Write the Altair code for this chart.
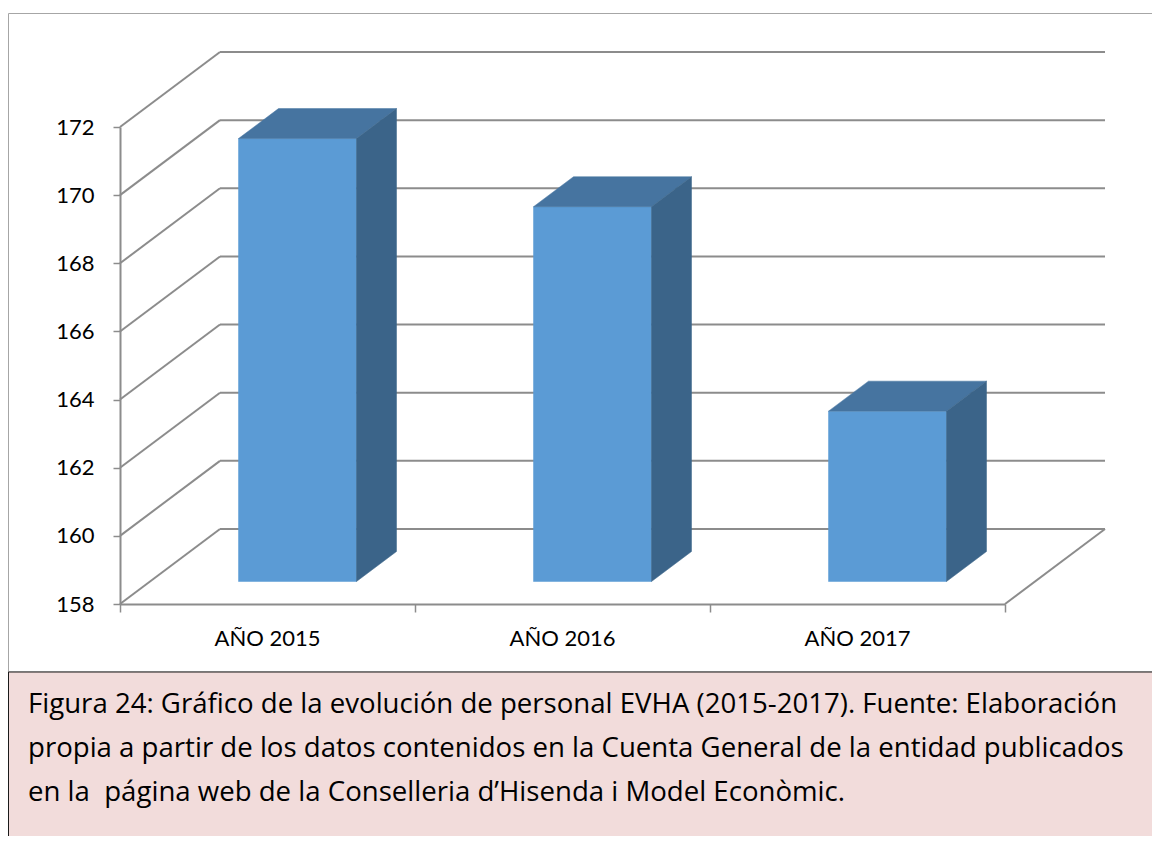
import altair as alt
import pandas as pd

# ---------------- data ----------------
categories = ["AÑO 2015", "AÑO 2016", "AÑO 2017"]
values = [171, 169, 163]
y_ticks = [158, 160, 162, 164, 166, 168, 170, 172]
caption_lines = [
    "Figura 24: Gráfico de la evolución de personal EVHA (2015-2017). Fuente: Elaboración",
    "propia a partir de los datos contenidos en la Cuenta General de la entidad publicados",
    "en la \u00a0página web de la Conselleria d’Hisenda i Model Econòmic.",
]

# ---------------- geometry / style ----------------
W, H = 885, 477
V0, V1 = y_ticks[0], y_ticks[-1]
N = len(categories)
DX = 100 / (W / N)           # depth shift, in category units
DV = 75 * (V1 - V0) / H      # depth shift, in value units
D_FRONT, D_BACK = 0.3, 0.7   # bar depth range
BAR_L, BAR_R = 0.3, 0.7      # bar position within slot
FONT = "Lato"
CAP_FONT = "Open Sans"
GRID = "#8c8c8c"

xs = alt.Scale(domain=[0, N], nice=False, zero=False)
ys = alt.Scale(domain=[V0, V1], nice=False, zero=False)
X_AX = alt.Axis(values=list(range(N + 1)), labels=False, grid=False, title=None,
                domainColor=GRID, domainWidth=2, tickColor=GRID, tickSize=8, tickWidth=1.5)
Y_AX = alt.Axis(values=y_ticks, grid=False, title=None, domainColor=GRID, domainWidth=2,
                tickColor=GRID, tickSize=7, tickWidth=1.5, labelFont=FONT, labelFontSize=22,
                labelColor="#000000", labelPadding=19, labelFlush=False, labelOverlap=False)

def X(f):
    return alt.X(f, type="quantitative", scale=xs, axis=X_AX)

def Y(f):
    return alt.Y(f, type="quantitative", scale=ys, axis=Y_AX)

one = pd.DataFrame({"k": [0]})

frame = alt.Chart(one).mark_rect(fill="white", fillOpacity=0, stroke="#a6a6a6", strokeWidth=1).encode(
    x=alt.value(-111.5), x2=alt.value(1100), y=alt.value(-113.5), y2=alt.value(545))

cap_box = alt.Chart(one).mark_rect(fill="#f2dcdb", stroke="#1a1a1a", strokeWidth=1).encode(
    x=alt.value(-111.5), x2=alt.value(1100), y=alt.value(545), y2=alt.value(800))

# back wall gridlines
back = pd.DataFrame({"x": [DX] * len(y_ticks), "x2": [N + DX] * len(y_ticks),
                     "y": [v + DV for v in y_ticks]})
back_l = alt.Chart(back).mark_rule(color=GRID, strokeWidth=2).encode(
    x=X("x"), x2="x2", y=Y("y"))

# left wall diagonals
left = pd.DataFrame({"x": [0] * len(y_ticks), "x2": [DX] * len(y_ticks),
                     "y": y_ticks, "y2": [v + DV for v in y_ticks]})
left_l = alt.Chart(left).mark_rule(color=GRID, strokeWidth=2).encode(
    x=X("x"), x2="x2", y=Y("y"), y2="y2")

# floor right edge
floor = pd.DataFrame({"x": [N], "x2": [N + DX], "y": [V0], "y2": [V0 + DV]})
floor_l = alt.Chart(floor).mark_rule(color=GRID, strokeWidth=2).encode(
    x=X("x"), x2="x2", y=Y("y"), y2="y2")

# bars: front, top, side faces
front_rows, top_rows, side_rows = [], [], []
for i, (c, v) in enumerate(zip(categories, values)):
    front_rows.append({"cat": c, "x": i + BAR_L + DX * D_FRONT, "x2": i + BAR_R + DX * D_FRONT,
                       "y": V0 + DV * D_FRONT, "y2": v + DV * D_FRONT})
    for d in (D_FRONT, D_BACK):
        top_rows.append({"cat": c, "y": v + DV * d, "x": i + BAR_L + DX * d, "x2": i + BAR_R + DX * d})
        side_rows.append({"cat": c, "x": i + BAR_R + DX * d, "y": V0 + DV * d, "y2": v + DV * d})

front_l = alt.Chart(pd.DataFrame(front_rows)).mark_rect(
    color="#5b9bd5", stroke="#5b9bd5", strokeWidth=0.5).encode(
    x=X("x"), x2="x2", y=Y("y"), y2="y2")
top_l = alt.Chart(pd.DataFrame(top_rows)).mark_area(
    orient="horizontal", color="#4674a0", stroke="#4674a0", strokeWidth=0.5).encode(
    y=Y("y"), x=X("x"), x2="x2", detail="cat:N")
side_l = alt.Chart(pd.DataFrame(side_rows)).mark_area(
    orient="vertical", color="#3b6489", stroke="#3b6489", strokeWidth=0.5).encode(
    x=X("x"), y=Y("y"), y2="y2", detail="cat:N")

# category labels
lab = pd.DataFrame({"cat": categories, "x": [i + 0.5 for i in range(N)]})
lab_l = alt.Chart(lab).mark_text(font=FONT, fontSize=22, color="#000000", baseline="middle",
                                 align="center").encode(
    x=X("x"), y=alt.value(H + 34.5), text="cat:N")

cap_l = alt.Chart(one).mark_text(font=CAP_FONT, fontSize=27.6, color="#000000", align="left",
                                 baseline="alphabetic", lineHeight=44).encode(
    x=alt.value(-92), y=alt.value(586), text=alt.value(caption_lines))

chart = alt.layer(frame, cap_box, back_l, left_l, floor_l, front_l, top_l, side_l, lab_l, cap_l).properties(
    width=W, height=H,
    autosize=alt.AutoSizeParams(type="none"),
    padding={"left": 112, "top": 119, "right": 147, "bottom": 232},
    background="white",
).configure_view(stroke=None)

chart.save("out.html", embed_options={"renderer": "svg", "actions": False})
